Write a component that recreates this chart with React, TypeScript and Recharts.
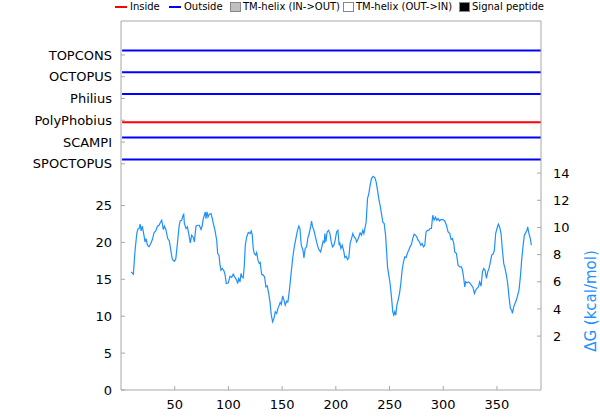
import { LineChart, Line, XAxis, YAxis } from "recharts";

const SEQ_LENGTH = 391;

// predictors, top row first
const methods = ["TOPCONS", "OCTOPUS", "Philius", "PolyPhobius", "SCAMPI", "SPOCTOPUS"];
// i = inside, o = outside (every prediction is a single segment here)
const topology = ["o", "o", "o", "i", "o", "o"];

const xTicks = [50, 100, 150, 200, 250, 300, 350];
const leftTicks = [0, 5, 10, 15, 20, 25];
const dgTicks = [2, 4, 6, 8, 10, 12, 14];

// [residue, deltaG kcal/mol]
const deltaGProfile: [number, number][] = [
  [9.4, 6.73], [11.5, 6.56], [13.1, 8.32], [14.7, 9.55], [15.6, 9.85], [16.8, 9.92], [17.8, 10.24], [18.7, 9.74],
  [19.9, 10.09], [20.8, 9.67], [22.4, 8.93], [23.3, 9.18], [24.6, 8.69], [26.1, 8.57], [27.7, 8.82], [29.2, 9.11],
  [30.8, 9.63], [32.4, 9.74], [33.9, 10.09], [35.4, 10.16], [36.4, 10.33], [37.9, 10.53], [39.4, 9.85], [40.4, 10.09],
  [41.7, 9.85], [43.5, 9.18], [45.0, 9.01], [46.6, 8.2], [47.8, 7.64], [49.7, 7.51], [51.0, 7.68], [52.5, 8.82],
  [54.0, 10.04], [55.0, 10.48], [56.5, 10.53], [57.8, 10.9], [58.4, 10.97], [59.0, 10.29], [60.5, 9.92], [61.8, 10.04],
  [63.3, 9.43], [64.5, 8.86], [65.8, 9.43], [67.1, 9.3], [68.3, 8.93], [69.8, 10.09], [71.4, 10.16], [72.9, 10.16],
  [74.5, 9.85], [75.7, 10.16], [76.6, 10.65], [77.6, 10.9], [78.5, 11.14], [79.1, 10.65], [80.1, 11.14], [81.0, 10.77],
  [82.2, 10.97], [83.8, 11.02], [85.0, 10.65], [86.3, 10.16], [87.5, 9.79], [89.1, 9.06], [90.0, 8.08], [91.2, 7.96],
  [92.2, 7.22], [93.1, 6.85], [94.3, 6.98], [95.6, 6.85], [96.8, 6.56], [98.0, 5.87], [99.9, 5.92], [101.5, 6.41],
  [103.0, 6.32], [104.5, 6.56], [106.1, 6.32], [107.7, 6.12], [108.6, 5.87], [109.6, 6.24], [110.8, 5.99], [111.7, 6.61],
  [112.6, 6.36], [113.8, 6.29], [114.8, 7.22], [115.7, 8.69], [117.0, 9.3], [118.5, 9.63], [120.1, 9.55], [121.3, 9.74],
  [122.2, 9.43], [123.1, 8.45], [124.1, 8.08], [125.4, 7.96], [126.3, 8.15], [127.5, 7.59], [128.7, 7.35], [129.6, 7.42],
  [130.9, 6.54], [132.4, 6.49], [133.7, 6.36], [134.9, 5.62], [136.1, 5.7], [137.5, 5.14], [138.7, 4.52], [139.9, 3.54],
  [141.2, 3.05], [142.4, 3.3], [143.6, 3.79], [144.9, 3.67], [146.1, 4.04], [147.3, 4.28], [148.2, 4.48], [149.2, 4.33],
  [150.5, 4.96], [151.7, 4.65], [152.9, 4.28], [154.2, 4.57], [155.4, 4.52], [156.6, 5.26], [158.2, 6.49], [159.8, 7.71],
  [161.3, 8.57], [162.8, 9.18], [164.0, 9.67], [165.6, 10.11], [166.6, 9.92], [167.8, 8.69], [169.4, 8.32], [170.3, 7.76],
  [171.5, 8.45], [172.8, 8.57], [174.0, 9.23], [175.2, 9.55], [176.5, 10.04], [177.4, 10.46], [178.4, 10.04], [179.6, 9.79],
  [180.8, 9.37], [182.1, 8.93], [183.3, 8.57], [184.5, 8.32], [185.8, 8.2], [187.0, 8.57], [188.2, 8.99], [189.2, 8.89],
  [189.8, 9.55], [190.7, 8.93], [191.9, 9.67], [193.3, 9.79], [194.5, 9.55], [195.7, 8.93], [197.0, 8.57], [198.2, 8.69],
  [199.4, 9.06], [200.7, 9.67], [201.9, 9.79], [203.1, 8.69], [203.8, 8.82], [204.7, 8.45], [205.9, 8.69], [207.2, 8.32],
  [208.4, 7.79], [209.6, 7.88], [210.9, 7.64], [212.1, 7.79], [213.3, 8.82], [214.6, 9.18], [215.8, 9.55], [217.1, 9.3],
  [218.4, 9.18], [219.3, 8.93], [220.2, 9.06], [221.4, 9.3], [222.6, 9.6], [223.9, 9.43], [225.1, 9.79], [226.1, 9.55],
  [227.0, 9.92], [228.2, 10.4], [229.5, 12.12], [230.7, 12.49], [231.9, 13.1], [233.2, 13.6], [234.7, 13.76], [236.3, 13.67],
  [237.5, 13.35], [238.8, 12.74], [240.0, 12.12], [241.2, 11.63], [242.5, 11.02], [243.7, 10.4], [245.0, 10.29], [246.3, 9.43],
  [247.2, 8.32], [248.1, 7.1], [249.3, 6.49], [250.5, 5.87], [251.8, 4.89], [253.0, 3.79], [254.0, 3.54], [254.9, 3.79],
  [255.8, 3.54], [256.8, 4.28], [258.0, 4.65], [259.3, 5.14], [260.5, 5.87], [261.7, 6.85], [263.0, 7.46], [264.2, 7.83],
  [265.4, 7.79], [266.7, 8.12], [267.9, 8.32], [269.1, 8.57], [270.4, 8.76], [271.6, 9.18], [272.9, 9.5], [274.2, 9.43],
  [275.4, 9.3], [276.6, 9.06], [277.9, 8.93], [279.1, 8.69], [280.3, 8.82], [281.6, 8.57], [282.8, 8.69], [284.0, 9.67],
  [285.3, 9.79], [286.5, 9.79], [287.7, 9.92], [289.0, 9.92], [290.2, 10.9], [291.5, 10.53], [292.8, 10.77], [294.0, 10.53],
  [295.2, 10.65], [296.5, 10.48], [297.7, 10.58], [299.8, 10.58], [301.4, 10.48], [303.0, 10.16], [304.5, 9.67], [306.1, 9.55],
  [307.3, 9.11], [308.6, 9.18], [309.8, 8.82], [310.7, 8.2], [312.3, 8.08], [313.8, 7.22], [315.4, 7.1], [316.9, 7.1],
  [317.9, 6.85], [319.1, 6.24], [320.0, 5.62], [320.9, 5.99], [322.1, 5.92], [323.5, 5.99], [324.7, 5.92], [326.2, 5.75],
  [327.7, 5.58], [329.0, 5.14], [330.2, 5.38], [331.4, 5.51], [332.7, 5.62], [333.9, 5.99], [335.2, 5.68], [336.5, 6.73],
  [337.7, 6.98], [338.9, 6.85], [340.2, 6.24], [341.4, 6.73], [342.6, 6.98], [343.9, 7.46], [345.1, 7.96], [346.3, 8.03],
  [347.6, 8.32], [348.8, 9.55], [350.0, 9.92], [351.3, 10.24], [352.5, 10.04], [353.8, 9.55], [355.1, 8.32], [356.3, 7.35],
  [357.5, 6.98], [358.8, 6.49], [360.0, 5.87], [361.2, 4.89], [362.5, 4.04], [363.7, 3.91], [364.4, 3.67], [365.6, 4.15],
  [366.8, 4.4], [368.1, 4.65], [369.3, 5.01], [370.5, 5.38], [371.8, 6.36], [373.0, 7.59], [374.2, 8.57], [375.5, 9.43],
  [376.7, 9.6], [377.9, 9.79], [378.6, 10.04], [379.8, 9.55], [381.1, 9.18], [382.0, 8.69],
];

const dgData = deltaGProfile.map(([x, dg]) => ({ x, dg }));

// each predictor gets its own row on the left axis, ~3 units apart
const rowValue = (i: number) => 45.4 - 2.95 * i;
const rowTicks = methods.map((_, i) => rowValue(i));

const stateColor: Record<string, string> = { i: "#ff0000", o: "#0000ff" };
// outside drawn a bit above the row, inside a bit below
const stateShift: Record<string, number> = { i: -0.28, o: 0.6 };

const AXIS = "#a8a8a8";
const TEXT = "#000";

const legendItems = [
  { label: "Inside", kind: "line", color: "#ff0000", left: 115 },
  { label: "Outside", kind: "line", color: "#0000ff", left: 169 },
  { label: "TM-helix (IN->OUT)", kind: "box", color: "#c0c0c0", left: 230 },
  { label: "TM-helix (OUT->IN)", kind: "box", color: "#ffffff", left: 343 },
  { label: "Signal peptide", kind: "box", color: "#000000", left: 459 },
];

function leftLabel(v: number) {
  const idx = rowTicks.findIndex((r) => Math.abs(r - v) < 0.01);
  return idx >= 0 ? methods[idx] : String(v);
}

function DgLabel() {
  // centred beside the labelled part of the dG axis
  const x = 591;
  const y = 301;
  return (
    <text x={x} y={y} transform={`rotate(-90 ${x} ${y})`} textAnchor="middle" dominantBaseline="central" fill="#1e90ff" fontSize={15}>
      ΔG (kcal/mol)
    </text>
  );
}

export default function App() {
  return (
    <div style={{ position: "absolute", left: 0, top: 0, width: 600, height: 420, fontFamily: "'DejaVu Sans', sans-serif", background: "#fff" }}>
      {legendItems.map((it) => (
        <div key={it.label} style={{ position: "absolute", left: it.left, top: 0, height: 13, display: "flex", alignItems: "center", fontSize: 10, color: TEXT, whiteSpace: "nowrap" }}>
          {it.kind === "line" ? (
            <span style={{ display: "inline-block", width: 12, height: 2, background: it.color, marginRight: 3 }} />
          ) : (
            <span style={{ display: "inline-block", width: 11, height: 10, background: it.color, border: "1px solid #888", boxSizing: "border-box", marginRight: 2 }} />
          )}
          {it.label}
        </div>
      ))}
      <LineChart width={600} height={420} margin={{ top: 20, right: 0, bottom: 0, left: 0 }}>
        <XAxis xAxisId="bottom" type="number" dataKey="x" domain={[0, SEQ_LENGTH]} ticks={xTicks} allowDataOverflow
          stroke={AXIS} tickSize={-4} tickMargin={14} height={30} interval={0} tick={{ fill: TEXT, fontSize: 13 }} />
        <XAxis xAxisId="top" orientation="top" type="number" dataKey="x" domain={[0, SEQ_LENGTH]} ticks={xTicks} allowDataOverflow
          stroke={AXIS} tickSize={-4} tick={false} height={1} interval={0} />
        <YAxis yAxisId="left" type="number" domain={[0, 50]} ticks={[...leftTicks, ...rowTicks]} allowDataOverflow
          stroke={AXIS} tickSize={-4} tickMargin={13} width={121} interval={0} tickFormatter={leftLabel}
          tick={{ fill: TEXT, fontSize: 13 }} />
        <YAxis yAxisId="dg" orientation="right" type="number" domain={[-1.97, 25.2]} ticks={dgTicks} allowDataOverflow
          stroke={AXIS} tickSize={-4} tickMargin={16} width={59} interval={0} tick={{ fill: TEXT, fontSize: 13 }}
          label={<DgLabel />} />
        {methods.map((m, i) => (
          <Line key={m} xAxisId="bottom" yAxisId="left" type="linear" dataKey="y"
            data={[{ x: 1, y: rowValue(i) + stateShift[topology[i]] }, { x: SEQ_LENGTH, y: rowValue(i) + stateShift[topology[i]] }]}
            stroke={stateColor[topology[i]]} strokeWidth={2} dot={false} isAnimationActive={false} />
        ))}
        <Line xAxisId="bottom" yAxisId="dg" type="linear" data={dgData} dataKey="dg" stroke="#1e90ff" strokeWidth={1.2}
          dot={false} isAnimationActive={false} />
      </LineChart>
    </div>
  );
}
